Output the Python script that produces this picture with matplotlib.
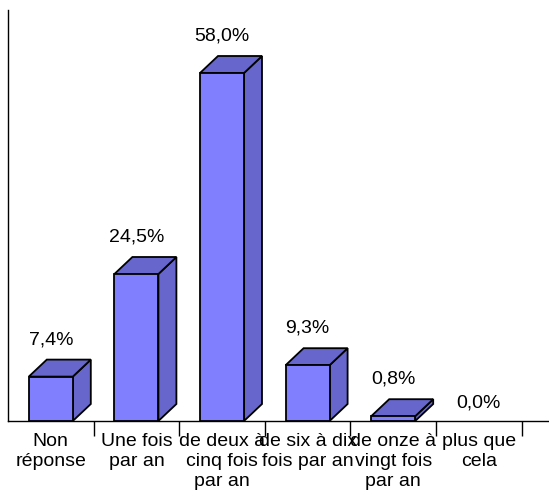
import matplotlib
matplotlib.use("Agg")
import matplotlib.pyplot as plt
from matplotlib.patches import Polygon

categories = ["Non\nréponse", "Une fois\npar an", "de deux à\ncinq fois\npar an",
              "de six à dix\nfois par an", "de onze à\nvingt fois\npar an", "plus que\ncela"]
values = [7.4, 24.5, 58.0, 9.3, 0.8, 0.0]

plt.rcParams['font.family'] = ['Liberation Sans', 'DejaVu Sans']
FS = 14

W, H = 549, 493
fig = plt.figure(figsize=(W / 100, H / 100), dpi=100)
px_per_cat = 85.6
px_per_pct = 6.0
ax_left, ax_bottom = 8, 72   # pixels
ax_w, ax_h = W - ax_left, 421 - 10
ax = fig.add_axes([ax_left / W, ax_bottom / H, ax_w / W, ax_h / H])
ax.set_xlim(-0.5, -0.5 + ax_w / px_per_cat)
ax.set_ylim(0, ax_h / px_per_pct)

half = 22 / px_per_cat
ddx = 18 / px_per_cat
ddy = 17 / px_per_pct
front_c = "#8080FF"
side_c = "#6666CC"
LW = 1.3

for i, v in enumerate(values):
    if v > 0:
        x0, x1 = i - half, i + half
        front = Polygon([(x0, 0), (x1, 0), (x1, v), (x0, v)], closed=True,
                        facecolor=front_c, edgecolor="black", lw=LW, zorder=3)
        top = Polygon([(x0, v), (x1, v), (x1 + ddx, v + ddy), (x0 + ddx, v + ddy)], closed=True,
                      facecolor=side_c, edgecolor="black", lw=LW, zorder=3)
        side = Polygon([(x1, 0), (x1 + ddx, ddy), (x1 + ddx, v + ddy), (x1, v)], closed=True,
                       facecolor=side_c, edgecolor="black", lw=LW, zorder=3)
        for p in (side, top, front):
            ax.add_patch(p)
        ly = v + ddy + 20 / px_per_pct
    else:
        ly = 18 / px_per_pct
    ax.text(i, ly, f"{v:.1f}%".replace(".", ","), ha="center", va="center",
            fontsize=FS, color="black", zorder=4)

ax.spines['top'].set_visible(False)
ax.spines['right'].set_visible(False)
for s in ('left', 'bottom'):
    ax.spines[s].set_color("black")
    ax.spines[s].set_linewidth(1.0)
ax.set_yticks([])
ax.set_xticks(range(len(categories)))
ax.set_xticklabels(categories, fontsize=FS, linespacing=1.22)
ax.tick_params(axis='x', which='major', length=0, pad=9)
ax.set_xticks([i + 0.5 for i in range(len(categories))], minor=True)
ax.tick_params(axis='x', which='minor', length=11, width=1.0, color="black", direction="out")
ax.patch.set_alpha(0)

fig.savefig("out.png", dpi=100, facecolor="white")
